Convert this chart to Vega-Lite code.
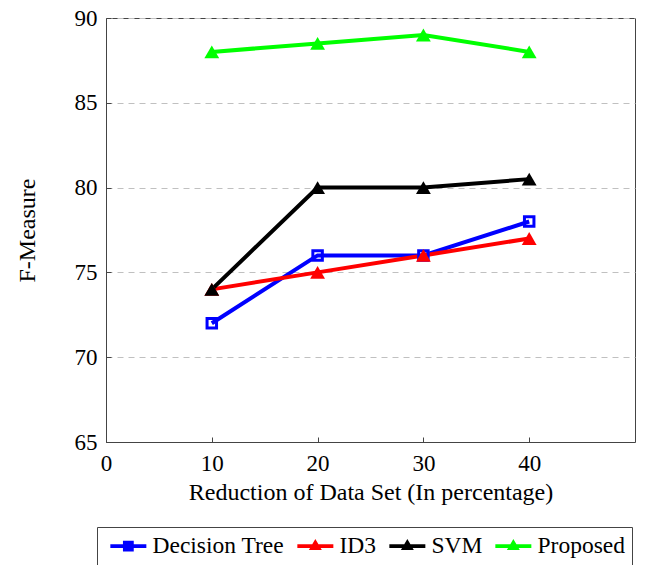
{
  "$schema": "https://vega.github.io/schema/vega-lite/v6.json",
  "width": 529,
  "height": 424,
  "autosize": {"type": "none"},
  "padding": {"left": 106, "top": 18, "right": 13, "bottom": 123},
  "config": {
    "font": "Liberation Serif",
    "view": {"stroke": "#444", "strokeWidth": 1},
    "axis": {
      "labelFont": "Liberation Serif",
      "titleFont": "Liberation Serif",
      "labelFontSize": 23,
      "titleFontSize": 24,
      "titleFontWeight": "normal",
      "labelColor": "#000",
      "titleColor": "#000",
      "domainColor": "#444",
      "tickColor": "#444",
      "tickSize": -5,
      "labelFlush": false
    },
    "legend": {
      "labelFont": "Liberation Serif",
      "labelFontSize": 23.5,
      "labelColor": "#000"
    }
  },
  "data": {
    "values": [
      {"pct": 10, "fm": 72, "model": "Decision Tree"},
      {"pct": 20, "fm": 76, "model": "Decision Tree"},
      {"pct": 30, "fm": 76, "model": "Decision Tree"},
      {"pct": 40, "fm": 78, "model": "Decision Tree"},
      {"pct": 10, "fm": 74, "model": "ID3"},
      {"pct": 20, "fm": 75, "model": "ID3"},
      {"pct": 30, "fm": 76, "model": "ID3"},
      {"pct": 40, "fm": 77, "model": "ID3"},
      {"pct": 10, "fm": 74, "model": "SVM"},
      {"pct": 20, "fm": 80, "model": "SVM"},
      {"pct": 30, "fm": 80, "model": "SVM"},
      {"pct": 40, "fm": 80.5, "model": "SVM"},
      {"pct": 10, "fm": 88, "model": "Proposed"},
      {"pct": 20, "fm": 88.5, "model": "Proposed"},
      {"pct": 30, "fm": 89, "model": "Proposed"},
      {"pct": 40, "fm": 88, "model": "Proposed"}
    ]
  },
  "encoding": {
    "x": {
      "field": "pct", "type": "quantitative",
      "scale": {"domain": [0, 50], "nice": false},
      "axis": {"values": [0, 10, 20, 30, 40], "grid": false, "title": "Reduction of Data Set (In percentage)", "labelPadding": 15, "titlePadding": 5}
    },
    "y": {
      "field": "fm", "type": "quantitative",
      "scale": {"domain": [65, 90], "nice": false, "zero": false},
      "axis": {"values": [65, 70, 75, 80, 85, 90], "grid": true, "gridDash": [6, 5], "gridColor": "#c0c0c0", "title": "F-Measure", "labelPadding": 14, "titlePadding": 35}
    },
    "color": {
      "field": "model", "type": "nominal",
      "scale": {"domain": ["Decision Tree", "ID3", "SVM", "Proposed"], "range": ["#0000ff", "#ff0000", "#000000", "#00ff00"]}
    }
  },
  "layer": [
    {
      "mark": {"type": "line", "strokeWidth": 4},
      "encoding": {
        "color": {
          "field": "model", "type": "nominal",
          "scale": {"domain": ["Decision Tree", "ID3", "SVM", "Proposed"], "range": ["#0000ff", "#ff0000", "#000000", "#00ff00"]},
          "legend": {
            "title": null,
            "orient": "none",
            "legendX": -9,
            "legendY": 509,
            "direction": "horizontal",
            "columns": 4,
            "strokeColor": "#444",
            "padding": 7,
            "symbolSize": 324,
            "columnPadding": 6,
            "labelOffset": 25,
            "encode": {
              "symbols": {
                "update": {
                  "shape": {"signal": "datum.value === 'Decision Tree' ? 'M-0.6,-0.22H3.4V0.22H-0.6Z M0.8,-0.6H2V0.6H0.8Z' : 'M-0.6,-0.22H3.4V0.22H-0.6Z M1.4,-0.8L2.12,0.44H0.68Z'"},
                  "fill": {"scale": "color", "field": "value"},
                  "stroke": {"value": "transparent"},
                  "strokeWidth": {"value": 0},
                  "opacity": {"value": 1}
                }
              }
            }
          }
        }
      }
    },
    {
      "transform": [{"filter": "datum.model === 'Decision Tree'"}],
      "mark": {"type": "point", "shape": "square", "filled": false, "strokeWidth": 3, "size": 90, "opacity": 1},
      "encoding": {"color": {"field": "model", "type": "nominal", "legend": null}}
    },
    {
      "transform": [{"filter": "datum.model !== 'Decision Tree'"}],
      "mark": {"type": "point", "shape": "triangle-up", "filled": true, "size": 220, "opacity": 1},
      "encoding": {"color": {"field": "model", "type": "nominal", "legend": null}}
    }
  ]
}
